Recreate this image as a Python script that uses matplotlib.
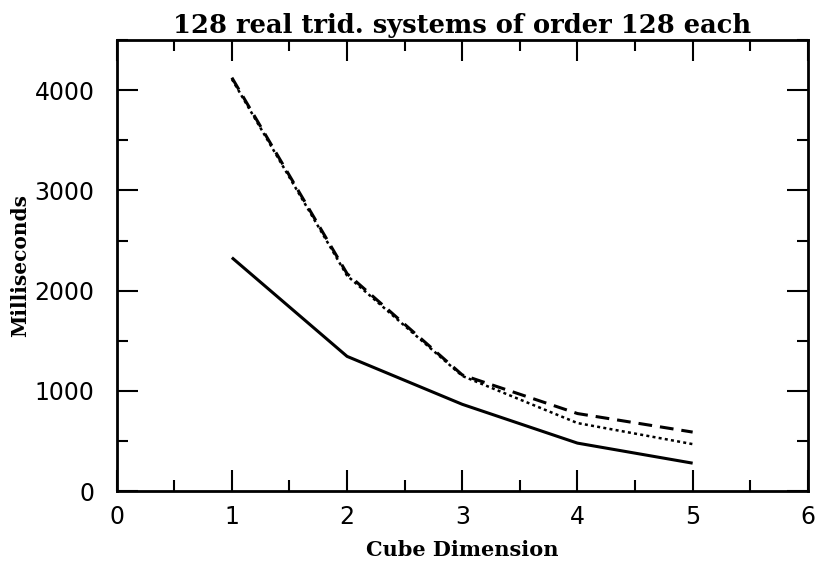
"""Cube dimension vs. time for 128 real tridiagonal systems."""

import matplotlib.pyplot as plt
from matplotlib.ticker import MultipleLocator

cube_dim = [1, 2, 3, 4, 5]
solid_ms = [2330, 1345, 867, 480, 280]
dashed_ms = [4125, 2170, 1160, 775, 590]
dotted_ms = [4110, 2150, 1150, 680, 470]

x_ticks = [0, 1, 2, 3, 4, 5, 6]
y_ticks = [0, 1000, 2000, 3000, 4000]

fig = plt.figure(figsize=(8.16, 5.64), dpi=100, facecolor="white")
ax = fig.add_axes([0.143, 0.129, 0.847, 0.8])

ax.plot(cube_dim, solid_ms, color="black", linewidth=2.2, solid_capstyle="butt")
ax.plot(cube_dim, dotted_ms, color="black", linewidth=1.8, linestyle=(0, (1.2, 1.3)))
ax.plot(cube_dim, dashed_ms, color="black", linewidth=2.2, linestyle=(0, (4.5, 2.6)))

ax.set_xlim(0, 6)
ax.set_ylim(0, 4500)
ax.set_xticks(x_ticks)
ax.set_yticks(y_ticks)
ax.xaxis.set_minor_locator(MultipleLocator(0.5))
ax.yaxis.set_minor_locator(MultipleLocator(500))
ax.tick_params(which="both", direction="in", top=True, right=True, width=1.5,
               labelsize=17)
ax.tick_params(axis="y", pad=16)
ax.tick_params(axis="x", pad=10)
ax.tick_params(which="major", length=15)
ax.tick_params(which="minor", length=8)
for side in ax.spines.values():
    side.set_linewidth(2.0)

ax.set_title("128 real trid. systems of order 128 each", fontsize=18.5,
             family="DejaVu Serif", fontweight="bold", pad=5)
ax.set_xlabel("Cube Dimension", fontsize=15, family="DejaVu Serif",
              fontweight="bold", labelpad=8)
ax.set_ylabel("Milliseconds", fontsize=14.5, family="DejaVu Serif",
              fontweight="bold", labelpad=3)

fig.savefig("out.png", dpi=100, facecolor="white")
